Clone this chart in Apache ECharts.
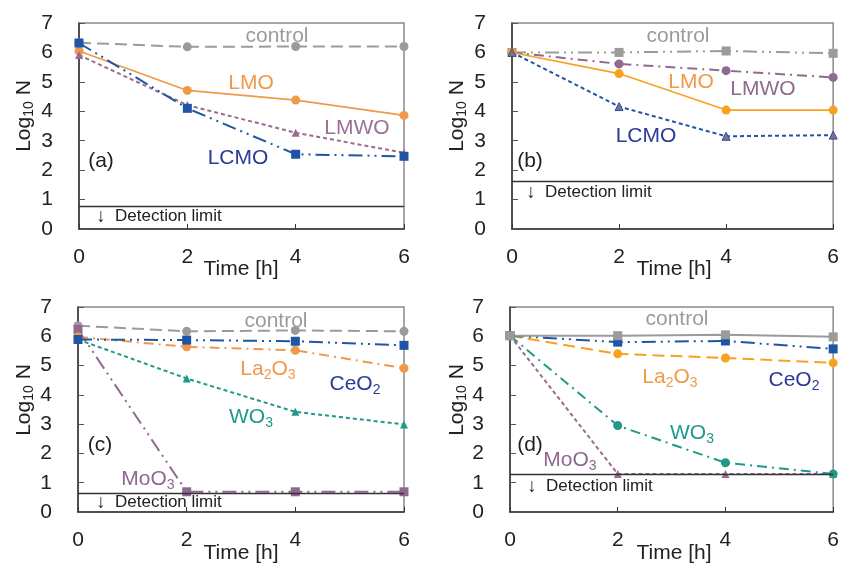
<!DOCTYPE html>
<html>
<head>
<meta charset="utf-8">
<script src="https://cdn.jsdelivr.net/npm/echarts@6/dist/echarts.min.js"></script>
<style>
html,body{margin:0;padding:0;background:#fff;}
#chart{width:842px;height:563px;}
</style>
</head>
<body>
<div id="chart"></div>
<script>
// Sampling times [h]
const timeH = [0, 2, 4, 6];
const xTicks = [0, 2, 4, 6];
const yTicks = [0, 1, 2, 3, 4, 5, 6, 7];

// Panel (a): log10 N
const aControl = [6.33, 6.19, 6.20, 6.20];
const aLMO     = [6.05, 4.71, 4.38, 3.86];
const aLMWO    = [5.91, 4.21, 3.27, 2.59];
const aLCMO    = [6.32, 4.10, 2.54, 2.47];
const aLimit   = 0.79;

// Panel (b)
const bControl = [6.00, 6.00, 6.05, 5.97];
const bLMWO    = [6.00, 5.61, 5.38, 5.15];
const bLMO     = [6.00, 5.28, 4.04, 4.04];
const bLCMO    = [6.00, 4.16, 3.15, 3.19];
const bLimit   = 1.61;

// Panel (c)
const cControl = [6.36, 6.17, 6.20, 6.17];
const cCeO2    = [5.89, 5.87, 5.83, 5.69];
const cLa2O3   = [5.98, 5.64, 5.52, 4.91];
const cWO3     = [5.89, 4.56, 3.42, 2.99];
const cMoO3    = [6.23, 0.69, 0.69, 0.69];
const cLimit   = 0.65;

// Panel (d)
const dControl = [6.02, 6.02, 6.05, 5.98];
const dCeO2    = [6.02, 5.80, 5.84, 5.57];
const dLa2O3   = [6.02, 5.40, 5.26, 5.09];
const dWO3     = [6.02, 2.95, 1.68, 1.30];
const dMoO3    = [6.02, 1.30, 1.30, 1.30];
const dLimit   = 1.30;

const FONT = 'Liberation Sans, Arial, sans-serif';
const GRAY = '#9b9b9b';
const BLUE = '#1f55a5';
const TEAL = '#1f9a8a';
const PURP = '#9a6b92';

const DASH_LONG = [12, 6];
const DASH_SHORT = [4, 3];
const DASH_DOT = [10, 5, 2, 5];
const DASH_DOT_DOT = [14, 5, 2, 5, 2, 5];

const grids = [
  {left: 79,  top: 23,  width: 325, height: 206},
  {left: 512, top: 23,  width: 323, height: 206},
  {left: 78,  top: 307, width: 326, height: 205},
  {left: 510, top: 307, width: 324, height: 205}
];

const pair = arr => arr.map((v, i) => [timeH[i], v]);

function line(gi, name, data, color, dash, symbol, width, extra) {
  return Object.assign({
    type: 'line', name: name,
    xAxisIndex: gi, yAxisIndex: gi,
    data: pair(data),
    symbol: symbol,
    symbolSize: symbol === 'triangle' ? 8 : 9,
    itemStyle: {color: color},
    lineStyle: {color: color, width: width || 1.8, type: dash},
    animation: false,
    z: 3
  }, extra || {});
}

function limitLine(gi, value) {
  return {
    type: 'line', xAxisIndex: gi, yAxisIndex: gi, data: [],
    animation: false,
    markLine: {
      silent: true, symbol: 'none', animation: false,
      label: {show: false},
      lineStyle: {color: '#333', width: 1.3, type: 'solid'},
      data: [{yAxis: value}]
    }
  };
}

const series = [
  // (a)
  line(0, 'control', aControl, GRAY, DASH_LONG, 'circle', 2),
  line(0, 'LMO', aLMO, '#f0994a', 'solid', 'circle', 1.6),
  line(0, 'LMWO', aLMWO, PURP, DASH_SHORT, 'triangle', 2),
  line(0, 'LCMO', aLCMO, BLUE, DASH_DOT_DOT, 'rect', 2),
  limitLine(0, aLimit),
  // (b)
  line(1, 'control', bControl, GRAY, DASH_DOT_DOT, 'rect', 2),
  line(1, 'LMWO', bLMWO, '#8e6a8e', DASH_DOT, 'circle', 2),
  line(1, 'LMO', bLMO, '#f7a21e', 'solid', 'circle', 1.6),
  line(1, 'LCMO', bLCMO, BLUE, DASH_SHORT, 'triangle', 2,
       {itemStyle: {color: '#8e6a8e', borderColor: BLUE, borderWidth: 1}}),
  limitLine(1, bLimit),
  // (c)
  line(2, 'control', cControl, GRAY, DASH_LONG, 'circle', 2),
  line(2, 'MoO3', cMoO3, '#8f6790', [14, 5, 2, 5, 2, 5], 'rect', 2),
  line(2, 'WO3', cWO3, TEAL, DASH_SHORT, 'triangle', 2),
  line(2, 'La2O3', cLa2O3, '#f0994a', DASH_DOT, 'circle', 2),
  line(2, 'CeO2', cCeO2, BLUE, DASH_DOT_DOT, 'rect', 2),
  limitLine(2, cLimit),
  // (d)
  line(3, 'MoO3', dMoO3, '#9a6b8a', DASH_SHORT, 'triangle', 2),
  line(3, 'WO3', dWO3, TEAL, DASH_DOT, 'circle', 2),
  line(3, 'La2O3', dLa2O3, '#f7a21e', DASH_LONG, 'circle', 2),
  line(3, 'CeO2', dCeO2, BLUE, DASH_DOT_DOT, 'rect', 2),
  line(3, 'control', dControl, GRAY, 'solid', 'rect', 2),
  limitLine(3, dLimit)
];

const xAxes = grids.map((g, i) => ({
  type: 'value', gridIndex: i, min: xTicks[0], max: xTicks[xTicks.length - 1], interval: 2,
  axisLine: {show: true, onZero: false, lineStyle: {color: '#333', width: 1.5}},
  axisTick: {show: true, inside: true, length: 5, lineStyle: {color: '#333', width: 1}},
  axisLabel: {color: '#222', fontSize: 21, fontFamily: FONT, margin: 18},
  splitLine: {show: false}
}));

const yAxes = grids.map((g, i) => ({
  type: 'value', gridIndex: i, min: yTicks[0], max: yTicks[yTicks.length - 1], interval: 1,
  axisLine: {show: true, onZero: false, lineStyle: {color: '#333', width: 1.5}},
  axisTick: {show: true, inside: true, length: 6, lineStyle: {color: '#555', width: 1}},
  axisLabel: {color: '#222', fontSize: 21, fontFamily: FONT, margin: 26},
  splitLine: {show: false}
}));

function txt(x, y, text, color, size, align) {
  return {
    type: 'text', x: x, y: y, z: 10,
    style: {
      text: text, fill: color, font: (size || 21) + 'px ' + FONT,
      align: align || 'center', verticalAlign: 'middle'
    }
  };
}

function richTxt(x, y, text, color, size) {
  return {
    type: 'text', x: x, y: y, z: 10,
    style: {
      text: text, fill: color, align: 'center', verticalAlign: 'middle',
      font: size + 'px ' + FONT,
      rich: {
        n: {fontSize: size, fontFamily: FONT, fill: color},
        s: {fontSize: Math.round(size * 0.66), fontFamily: FONT, fill: color, padding: [Math.round(size * 0.55), 0, 0, 0]}
      }
    }
  };
}

function yName(x, y) {
  return {
    type: 'text', x: x, y: y, rotation: Math.PI / 2, z: 10,
    style: {
      text: '{n|Log}{s|10}{n| N}', align: 'center', verticalAlign: 'middle',
      rich: {
        n: {fontSize: 21, fontFamily: FONT, fill: '#222'},
        s: {fontSize: 14, fontFamily: FONT, fill: '#222', padding: [11, 0, 0, 0]}
      }
    }
  };
}

// Arrow + "Detection limit" note under each limit line
function limitNote(x, y) {
  return [
    txt(x + 4, y + 1, '↓', '#222', 19),
    txt(x + 18, y, 'Detection limit', '#222', 17, 'left')
  ];
}

const graphics = [
  // axis titles
  yName(24, 116), yName(457, 116), yName(24, 400), yName(457, 400),
  txt(241, 269, 'Time [h]', '#222', 21),
  txt(674, 269, 'Time [h]', '#222', 21),
  txt(241, 553, 'Time [h]', '#222', 21),
  txt(674, 553, 'Time [h]', '#222', 21),
  // (a)
  txt(277, 36, 'control', GRAY, 21),
  txt(251, 83, 'LMO', '#f0994a', 21),
  txt(357, 128, 'LMWO', '#9a7096', 21),
  txt(238, 158, 'LCMO', '#2b3a96', 21),
  txt(101, 161, '(a)', '#222', 21),
  ...limitNote(97, 216),
  // (b)
  txt(678, 36, 'control', GRAY, 21),
  txt(691, 82, 'LMO', '#f0994a', 21),
  txt(763, 89, 'LMWO', '#8e6a8e', 21),
  txt(646, 136, 'LCMO', '#2b3a96', 21),
  txt(530, 161, '(b)', '#222', 21),
  ...limitNote(527, 192),
  // (c)
  txt(276, 321, 'control', GRAY, 21),
  richTxt(268, 369, '{n|La}{s|2}{n|O}{s|3}', '#f0994a', 21),
  richTxt(355, 384, '{n|CeO}{s|2}', '#2b3a96', 21),
  richTxt(251, 417, '{n|WO}{s|3}', TEAL, 21),
  richTxt(148, 479, '{n|MoO}{s|3}', '#8f6790', 21),
  txt(100, 445, '(c)', '#222', 21),
  ...limitNote(97, 502),
  // (d)
  txt(677, 319, 'control', GRAY, 21),
  richTxt(670, 377, '{n|La}{s|2}{n|O}{s|3}', '#f0994a', 21),
  richTxt(794, 380, '{n|CeO}{s|2}', '#2b3a96', 21),
  richTxt(692, 433, '{n|WO}{s|3}', TEAL, 21),
  richTxt(570, 460, '{n|MoO}{s|3}', '#8f6790', 21),
  txt(530, 445, '(d)', '#222', 21),
  ...limitNote(528, 486)
];

const chart = echarts.init(document.getElementById('chart'), null, {renderer: 'canvas'});
chart.setOption({
  backgroundColor: '#fff',
  animation: false,
  grid: grids.map(g => Object.assign({show: true, borderColor: '#8a8a8a', borderWidth: 1.5, backgroundColor: 'transparent'}, g)),
  xAxis: xAxes,
  yAxis: yAxes,
  series: series,
  graphic: graphics
});
</script>
</body>
</html>
